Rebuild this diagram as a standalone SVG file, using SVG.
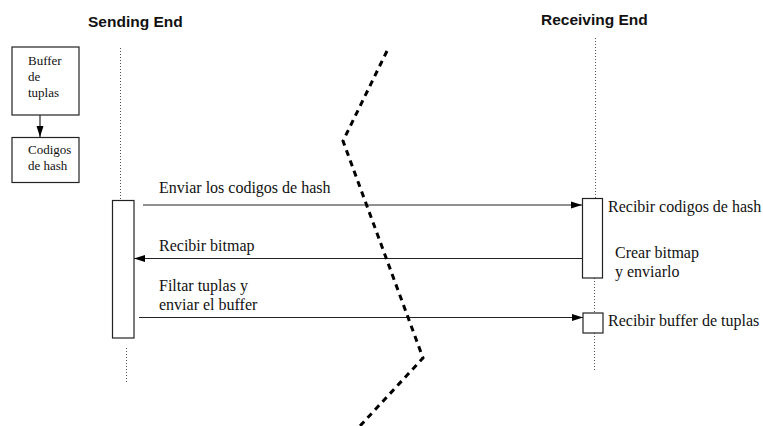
<svg xmlns="http://www.w3.org/2000/svg" width="763" height="426" viewBox="0 0 763 426">
  <style>
    .title { font-family: "Liberation Sans", Arial, sans-serif; font-weight: bold; font-size: 15.5px; fill: #111; }
    .lbl { font-family: "Liberation Serif", "Times New Roman", serif; font-size: 16px; fill: #111; }
    .small { font-family: "Liberation Serif", "Times New Roman", serif; font-size: 13px; fill: #111; }
    .box { fill: #fff; stroke: #222; stroke-width: 1.2; }
    .life { fill: none; stroke: #555; stroke-width: 1; stroke-dasharray: 1 2; }
    .msg { fill: none; stroke: #222; stroke-width: 1.2; }
    .cut { fill: none; stroke: #000; stroke-width: 3; stroke-dasharray: 6 5; }
  </style>
  <defs>
    <marker id="head" markerUnits="userSpaceOnUse" markerWidth="12" markerHeight="8" refX="11" refY="4" orient="auto">
      <path d="M0,0.5 L11,4 L0,7.5 Z" fill="#000"/>
    </marker>
  </defs>

  <rect width="763" height="426" fill="#fff"/>

  <!-- lane titles -->
  <text class="title" x="88" y="27">Sending End</text>
  <text class="title" x="541" y="25">Receiving End</text>

  <!-- lifelines -->
  <g id="lifelines">
    <line class="life" x1="120.5" y1="48" x2="120.5" y2="200"/>
    <line class="life" x1="126.5" y1="348" x2="126.5" y2="384"/>
    <line class="life" x1="595.5" y1="38" x2="595.5" y2="198"/>
    <line class="life" x1="594.5" y1="278" x2="594.5" y2="313"/>
    <line class="life" x1="594.5" y1="333" x2="594.5" y2="372"/>
  </g>

  <!-- tuple buffer -->
  <g id="buffer">
    <rect class="box" x="12" y="47" width="67" height="68"/>
    <text class="small" x="28" y="65">Buffer</text>
    <text class="small" x="28" y="81">de</text>
    <text class="small" x="28" y="97">tuplas</text>
  </g>

  <!-- hash codes -->
  <g id="hashcodes">
    <rect class="box" x="12" y="137.5" width="67" height="45"/>
    <text class="small" x="28" y="154">Codigos</text>
    <text class="small" x="28" y="170">de hash</text>
  </g>

  <!-- sender activation -->
  <g id="sender">
    <rect class="box" x="112.5" y="200.5" width="21.5" height="137.5"/>
  </g>

  <!-- receiver activations -->
  <g id="receiver-bitmap">
    <rect class="box" x="582.5" y="198.5" width="20" height="79.5"/>
    <text class="lbl" x="608" y="212">Recibir codigos de hash</text>
    <text class="lbl" x="615" y="258">Crear bitmap</text>
    <text class="lbl" x="615" y="277">y enviarlo</text>
  </g>
  <g id="receiver-buffer">
    <rect class="box" x="583" y="313" width="20" height="20"/>
    <text class="lbl" x="608" y="326">Recibir buffer de tuplas</text>
  </g>

  <!-- messages -->
  <g id="connectors">
    <line class="msg" x1="40" y1="115" x2="40" y2="137" marker-end="url(#head)"/>
    <line class="msg" x1="143" y1="205" x2="582" y2="205" marker-end="url(#head)"/>
    <line class="msg" x1="582" y1="258.5" x2="134" y2="258.5" marker-end="url(#head)"/>
    <line class="msg" x1="139" y1="317.5" x2="583" y2="317.5" marker-end="url(#head)"/>
  </g>
  <g id="message-labels">
    <text class="lbl" x="159" y="193">Enviar los codigos de hash</text>
    <text class="lbl" x="159" y="251">Recibir bitmap</text>
    <text class="lbl" x="159" y="291">Filtar tuplas y</text>
    <text class="lbl" x="159" y="310">enviar el buffer</text>
  </g>

  <!-- network cut -->
  <polyline class="cut" points="387,51 343,141 423,358 360,426"/>
</svg>
